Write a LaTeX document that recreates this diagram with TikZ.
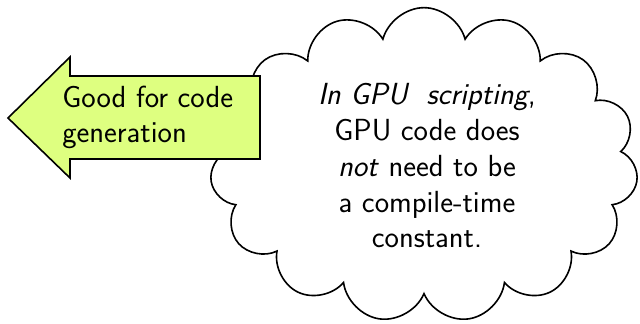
\documentclass[tikz,border=0pt]{standalone}
\usetikzlibrary{shapes.symbols}
\definecolor{arrowfill}{RGB}{222,255,128}
\begin{document}
\begin{tikzpicture}[x=0.75pt,y=-0.75pt,
  outline/.style={draw=black,line width=1.2pt},
  bodytext/.style={font=\sffamily\fontsize{22.9}{26.85}\selectfont,inner sep=0pt}]
\useasboundingbox (0,0) rectangle (640,324);
% thought cloud
\node[outline,cloud,cloud puffs=15,cloud ignores aspect,fill=white,shape border rotate=12,
      minimum width=321pt,minimum height=236pt,inner sep=0pt] (cloud) at (424,165) {};
\node[bodytext,anchor=base,align=center] (note) at (427,248)
  {\textit{In GPU\ \ scripting},\\GPU code does\\\textit{not} need to be\\a compile-time\\constant.};
% left-pointing arrow
\draw[outline,fill=arrowfill,line join=miter] (8,118) -- (70,57) -- (70,76) -- (260,76)
  -- (260,159) -- (70,159) -- (70,178) -- cycle;
\node[bodytext,anchor=base west,align=left] (label) at (62,143) {Good for code\\generation};
\end{tikzpicture}
\end{document}
